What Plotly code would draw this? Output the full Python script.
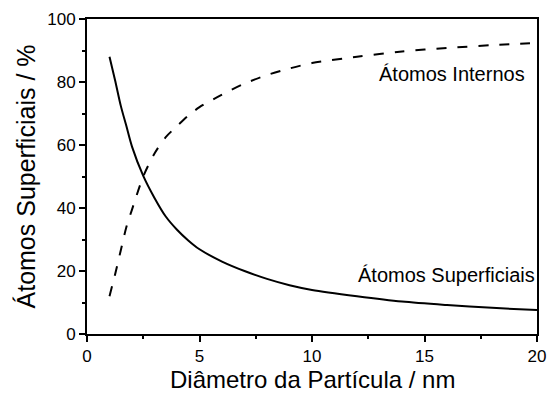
import plotly.graph_objects as go

diametro = [1, 1.25, 1.5, 1.75, 2, 2.5, 3, 3.5, 4, 4.5, 5, 6, 7, 8, 9, 10, 12, 14, 16, 18, 20]
superficiais = [88, 80.5, 72.5, 66, 59.5, 50.2, 43.2, 37.3, 33.1, 29.7, 26.9, 23, 20, 17.5, 15.5, 14, 12, 10.3, 9.2, 8.3, 7.6]
internos = [12, 19, 26.5, 34, 39.5, 50, 57.3, 62.5, 66, 69.3, 72, 76, 79.5, 82.2, 84.3, 86, 88, 89.7, 90.8, 91.7, 92.4]

font = "Liberation Sans, Arial, sans-serif"

fig = go.Figure()
fig.add_trace(go.Scatter(x=diametro, y=superficiais, mode="lines",
                         line=dict(color="black", width=2, shape="spline", smoothing=0.8),
                         showlegend=False))
fig.add_trace(go.Scatter(x=diametro, y=internos, mode="lines",
                         line=dict(color="black", width=2, dash="10px,11px", shape="spline", smoothing=0.8),
                         showlegend=False))

fig.add_annotation(x=19.55, y=82.5, text="Átomos Internos", showarrow=False,
                   xanchor="right", yanchor="middle", font=dict(family=font, size=20, color="black"))
fig.add_annotation(x=20, y=18.8, text="Átomos Superficiais", showarrow=False,
                   xanchor="right", yanchor="middle", font=dict(family=font, size=20, color="black"))
# x-axis title placed as paper annotation for precise position
fig.add_annotation(x=0.5, y=0, xref="paper", yref="paper", text="Diâmetro da Partícula / nm",
                   showarrow=False, xanchor="center", yanchor="bottom", yshift=-60,
                   borderpad=0, font=dict(family=font, size=24, color="black"))

axis_common = dict(showgrid=False, zeroline=False, showline=True, linecolor="black",
                   linewidth=2, mirror=True, ticks="outside", ticklen=6, tickwidth=2,
                   tickcolor="black", tickfont=dict(family=font, size=17, color="black"),
                   automargin=False)

fig.update_xaxes(range=[0, 20], tickvals=[0, 5, 10, 15, 20],
                 minor=dict(tickvals=[2.5, 7.5, 12.5, 17.5], ticks="outside", ticklen=3,
                            tickwidth=2, tickcolor="black"),
                 **axis_common)
fig.update_yaxes(range=[0, 100], tickvals=[0, 20, 40, 60, 80, 100],
                 minor=dict(tickvals=[10, 30, 50, 70, 90], ticks="outside", ticklen=3,
                            tickwidth=2, tickcolor="black"),
                 title=dict(text="Átomos Superficiais / %", font=dict(family=font, size=25, color="black"),
                            standoff=4),
                 **axis_common)

fig.update_layout(width=550, height=394, margin=dict(l=87, r=13, t=19, b=60),
                  plot_bgcolor="white", paper_bgcolor="white")

fig.write_html("out.html")
